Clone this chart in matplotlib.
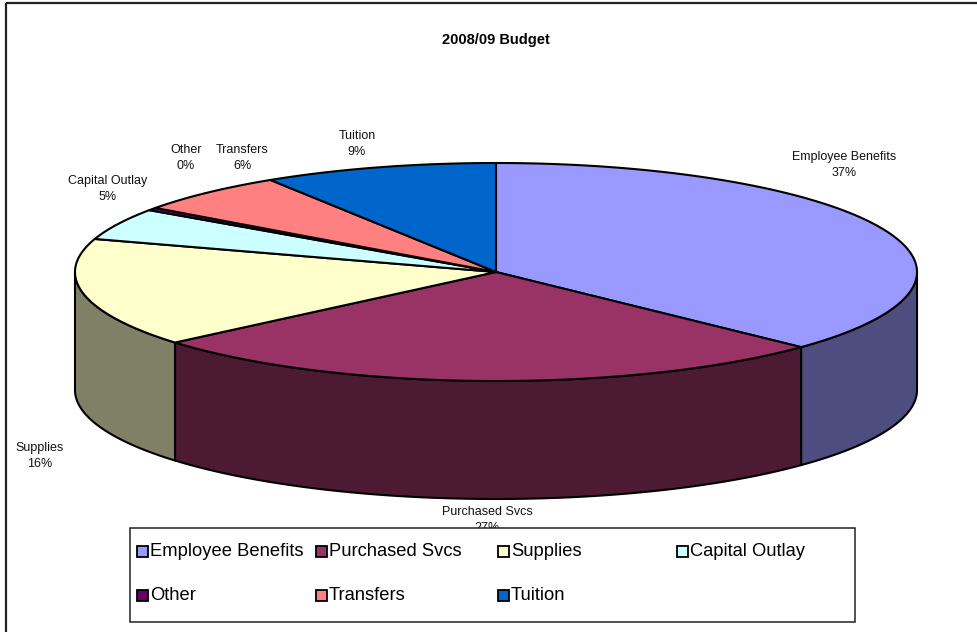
import numpy as np
import matplotlib
matplotlib.use("Agg")
import matplotlib.pyplot as plt
from matplotlib.patches import Polygon, Rectangle
from matplotlib.colors import to_rgb

plt.rcParams["font.family"] = ["Liberation Sans", "DejaVu Sans"]

categories = ["Employee Benefits", "Purchased Svcs", "Supplies", "Capital Outlay",
              "Other", "Transfers", "Tuition"]
shares = [37.1, 26.7, 16.1, 4.7, 0.4, 6.0, 9.0]
colors = ["#9999FF", "#993366", "#FFFFCC", "#CCFFFF", "#660066", "#FF8080", "#0066CC"]

# label anchor points (pixels) for each slice
label_pos = [(844, 165), (487, 520), (40, 456), (108, 189),
             (186, 158), (242, 158), (357, 144)]

W, H = 977, 632
fig = plt.figure(figsize=(W / 100, H / 100), dpi=100)
ax = fig.add_axes([0, 0, 1, 1])
ax.set_xlim(0, W)
ax.set_ylim(H, 0)
ax.axis("off")

# chart area border (top and left only)
ax.plot([5.5, W], [2.5, 2.5], color="#222222", lw=1.6, solid_capstyle="butt")
ax.plot([5.5, 5.5], [2.5, H], color="#222222", lw=1.6, solid_capstyle="butt")

ax.text(496, 40, "2008/09 Budget", ha="center", va="center",
        fontsize=10.5, fontweight="bold")

cx, cy = 496, 272
rx, ry = 421, 109
depth = 118
edge = dict(edgecolor="black", linewidth=1.5, joinstyle="round")


def pt(t, dy=0.0):
    return cx + rx * np.cos(t), cy - ry * np.sin(t) + dy


total = sum(shares)
bounds = [90.0]
for s in shares:
    bounds.append(bounds[-1] - 360.0 * s / total)

# outer walls on the front half
for i, col in enumerate(colors):
    a0, a1 = bounds[i], bounds[i + 1]
    hi, lo = min(a0, 0.0), max(a1, -180.0)
    if hi <= lo:
        continue
    t = np.radians(np.linspace(hi, lo, 120))
    xt, yt = pt(t)
    xb, yb = pt(t[::-1], depth)
    side = np.array(to_rgb(col)) * 0.5
    ax.add_patch(Polygon(np.column_stack([np.r_[xt, xb], np.r_[yt, yb]]),
                         closed=True, facecolor=side, zorder=2, **edge))

# top surface
for i, col in enumerate(colors):
    a0, a1 = bounds[i], bounds[i + 1]
    n = max(int(abs(a0 - a1)) * 2, 4)
    t = np.radians(np.linspace(a0, a1, n))
    xs, ys = pt(t)
    verts = np.column_stack([np.r_[cx, xs], np.r_[cy, ys]])
    ax.add_patch(Polygon(verts, closed=True, facecolor=col, zorder=3, **edge))

for name, s, (lx, ly) in zip(categories, shares, label_pos):
    ax.text(lx, ly, f"{name}\n{s:.0f}%", ha="center", va="center",
            fontsize=9, linespacing=1.45, color="#111111", zorder=4)

# legend
ax.add_patch(Rectangle((130, 528), 725, 94, facecolor="white",
                       edgecolor="#222222", linewidth=1.1, zorder=5))
col_x = [137, 316, 498, 677]
row_y = [551, 595]
for i, (name, col) in enumerate(zip(categories, colors)):
    x = col_x[i % 4]
    y = row_y[i // 4]
    ax.add_patch(Rectangle((x, y - 5.5), 11, 11, facecolor=col,
                           edgecolor="black", linewidth=1.3, zorder=6))
    ax.text(x + 13, y, name, ha="left", va="center", fontsize=13.2, zorder=6)

fig.savefig("out.png", dpi=100)
